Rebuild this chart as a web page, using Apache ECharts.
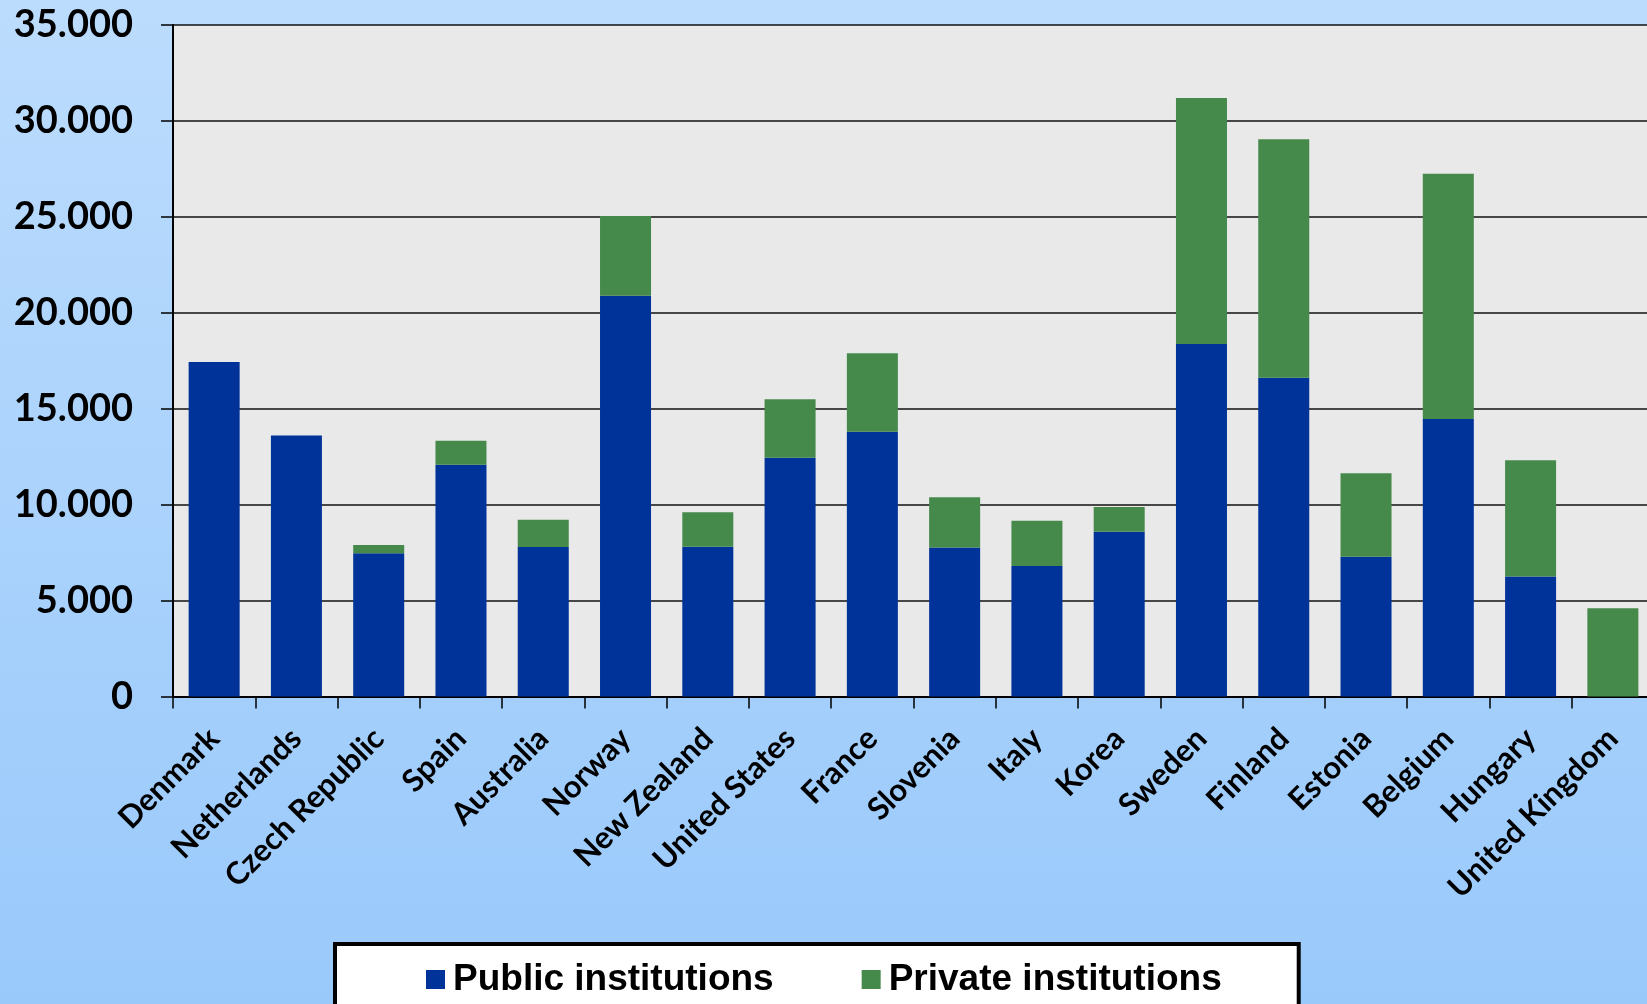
<!DOCTYPE html>
<html>
<head>
<meta charset="utf-8">
<script src="https://cdn.jsdelivr.net/npm/echarts@6/dist/echarts.min.js"></script>
<style>
html,body{margin:0;padding:0;overflow:hidden;}
#chart{width:1647px;height:1004px;}
</style>
</head>
<body>
<div id="chart"></div>
<script>
const categories = ["Denmark","Netherlands","Czech Republic","Spain","Australia","Norway","New Zealand","United States","France","Slovenia","Italy","Korea","Sweden","Finland","Estonia","Belgium","Hungary","United Kingdom"];
const publicValues  = [17430,13600,7460,12080,7790,20890,7810,12450,13800,7760,6800,8590,18370,16620,7290,14460,6250,0];
const privateValues = [0,0,440,1250,1420,4150,1790,3040,4090,2620,2360,1290,12830,12420,4340,12790,6060,4600];
const seriesNames = ["Public institutions","Private institutions"];
const yTicks = {min:0,max:35000,interval:5000};

const chart = echarts.init(document.getElementById('chart'));
chart.setOption({
  animation:false,
  backgroundColor:{type:'linear',x:0,y:0,x2:0,y2:1,colorStops:[{offset:0,color:'#bcdcfd'},{offset:1,color:'#99c9fb'}]},
  grid:{left:173,top:25,width:1481,height:671.5,show:true,backgroundColor:'#e9e9e9',borderWidth:0,outerBoundsMode:'none',containLabel:false},
  legend:{
    data:seriesNames,
    left:335,top:944,
    padding:[17,77,36,91],
    borderColor:'#000',borderWidth:4,backgroundColor:'#fff',
    icon:'rect',itemWidth:19,itemHeight:19,itemGap:88,
    textStyle:{fontFamily:'Liberation Sans',fontWeight:'bold',fontSize:37,color:'#000',padding:[0,0,0,3]}
  },
  xAxis:{
    type:'category',data:categories,
    axisLine:{lineStyle:{color:'#000',width:2}},
    axisTick:{show:true,length:12,lineStyle:{color:'#000',width:1.5}},
    axisLabel:{rotate:45,interval:0,margin:37,fontFamily:'Lato',fontWeight:'bold',fontSize:31,color:'#000'}
  },
  yAxis:{
    type:'value',min:yTicks.min,max:yTicks.max,interval:yTicks.interval,
    axisLine:{show:true,lineStyle:{color:'#000',width:2}},
    axisTick:{show:true,length:12,lineStyle:{color:'#000',width:1.5}},
    splitLine:{lineStyle:{color:'#111',width:1.5}},
    axisLabel:{margin:40,fontFamily:'Lato',fontWeight:'bold',fontSize:38,color:'#000',
      formatter:v=>String(v).replace(/\B(?=(\d{3})+(?!\d))/g,'.')}
  },
  series:[
    {name:seriesNames[0],type:'bar',stack:'t',data:publicValues,barWidth:'62%',itemStyle:{color:'#003399'}},
    {name:seriesNames[1],type:'bar',stack:'t',data:privateValues,barWidth:'62%',itemStyle:{color:'#468a4b'}}
  ]
});
</script>
</body>
</html>
